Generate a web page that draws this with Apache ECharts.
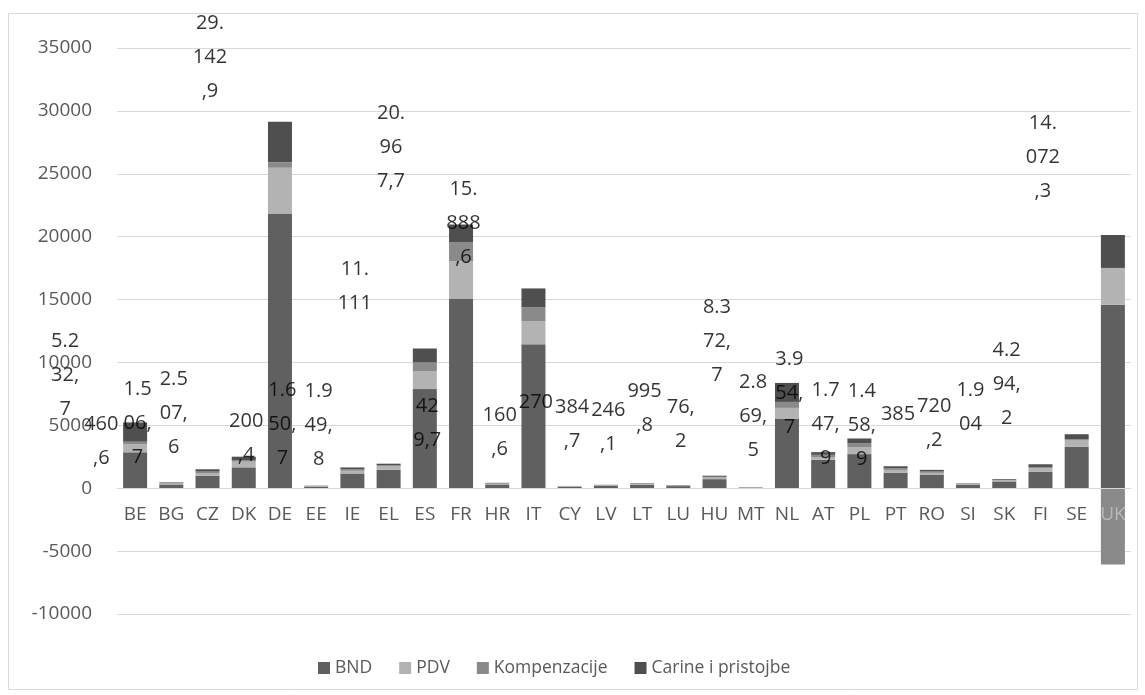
<!DOCTYPE html>
<html>
<head>
<meta charset="utf-8">
<script src="https://cdn.jsdelivr.net/npm/echarts@6/dist/echarts.min.js"></script>
<style>
html,body{margin:0;padding:0;background:#fff;}
#c{width:1145px;height:695px;}
</style>
</head>
<body>
<div id="c"></div>
<script>
// ---- data ----
const categories = ['BE','BG','CZ','DK','DE','EE','IE','EL','ES','FR','HR','IT','CY','LV','LT','LU','HU','MT','NL','AT','PL','PT','RO','SI','SK','FI','SE','UK'];
const seriesNames = ['BND','PDV','Kompenzacije','Carine i pristojbe'];
const bnd    = [2852, 300, 1005, 1660, 21800, 130, 1174, 1474, 7880, 15040, 300, 11440, 110, 190, 270, 170, 720, 55, 5540, 2260, 2712, 1217, 1089, 290, 540, 1295, 3288, 14580];
const pdv    = [661, 70, 159, 450, 3680, 35, 212, 265, 1403, 2991, 60, 1851, 25, 40, 55, 40, 130, 10, 846, 212, 529, 238, 132, 45, 80, 291, 503, 2933];
const komp   = [185, 40, 159, 132, 430, 15, 106, 79, 714, 1507, 30, 1088, 10, 15, 20, 10, 60, 5, 476, 185, 344, 132, 106, 20, 40, 106, 106, -6063];
const carine = [1534, 50, 185, 265, 3233, 20, 159, 132, 1111, 1430, 40, 1505, 16, 25, 40, 26, 86, 6, 1509, 212, 370, 159, 132, 30, 60, 212, 397, 2622];
const totals = [5232.7, 460.6, 1506.7, 2507.6, 29142.9, 200.4, 1650.7, 1949.8, 11111, 20967.7, 429.7, 15888.6, 160.6, 270, 384.7, 246.1, 995.8, 76.2, 8372.7, 2869.5, 3954.7, 1747.9, 1458.9, 385, 720.2, 1904, 4294.2, 14072.3];
const totalLabels = ['5.2\n32,\n7','460\n,6','1.5\n06,\n7','2.5\n07,\n6','29.\n142\n,9','200\n,4','1.6\n50,\n7','1.9\n49,\n8','11.\n111','20.\n96\n7,7','42\n9,7','15.\n888\n,6','160\n,6','270','384\n,7','246\n,1','995\n,8','76,\n2','8.3\n72,\n7','2.8\n69,\n5','3.9\n54,\n7','1.7\n47,\n9','1.4\n58,\n9','385','720\n,2','1.9\n04','4.2\n94,\n2','14.\n072\n,3'];
const yTicks = {min: -10000, max: 35000, interval: 5000};

// ---- layout (label placement offsets, px) ----
const labelDx = -70;
const labelDy = [-47, -41, -46, -43, -64, -47, -43, -38, -62, -77, -60, -65, -54, -83, -59, -58, -67, -63, -42, -36, -45, -42, -45, -69, -56, -57, -50, -154];

const colors = ['#606060', '#b3b3b3', '#8a8a8a', '#4f4f4f'];
const FONT = 'Open Sans';
const GRID = {left: 117, right: 14, top: 48, bottom: 81};

const chart = echarts.init(document.getElementById('c'), null, {renderer: 'canvas'});
const valueArrays = [bnd, pdv, komp, carine];
const barSeries = seriesNames.map((n, k) => ({
  name: n,
  type: 'bar',
  stack: 'total',
  barWidth: 24,
  data: valueArrays[k],
  itemStyle: {color: colors[k]},
  emphasis: {disabled: true}
}));

const labelSeries = {
  name: 'labels',
  type: 'scatter',
  symbol: 'circle',
  symbolSize: 1,
  silent: true,
  z: 10,
  itemStyle: {color: 'rgba(0,0,0,0)'},
  data: totals.map((v, i) => ({
    value: v,
    label: {
      show: true,
      position: 'inside',
      offset: [labelDx, labelDy[i]],
      formatter: totalLabels[i]
    }
  })),
  label: {
    show: true,
    color: '#000',
    fontFamily: FONT,
    fontSize: 20,
    lineHeight: 34,
    align: 'center'
  }
};

// distance from grid bottom to zero line, so the category axis sits on zero
const plotH = 695 - GRID.top - GRID.bottom;
const zeroShift = plotH * (0 - yTicks.min) / (yTicks.max - yTicks.min);

// category tick labels; the one sitting on the negative bar is drawn lighter, as in the original
const categoryData = categories.map((c, i) => {
  const hasNeg = valueArrays.some(a => a[i] < 0);
  return hasNeg ? {value: c, textStyle: {color: '#b8b8b8'}} : c;
});

chart.setOption({
  animation: false,
  backgroundColor: '#fff',
  graphic: [{
    type: 'rect',
    shape: {x: 8.5, y: 13.5, width: 1129, height: 676},
    style: {fill: 'none', stroke: '#d9d9d9', lineWidth: 1},
    silent: true, z: -1
  }],
  grid: Object.assign({containLabel: false}, GRID),
  legend: {
    data: seriesNames,
    left: 313,
    top: 654,
    icon: 'rect',
    itemWidth: 12,
    itemHeight: 12,
    itemGap: 27,
    textStyle: {color: '#595959', fontFamily: FONT, fontSize: 17.5}
  },
  xAxis: {
    type: 'category',
    data: categoryData,
    offset: -zeroShift,
    z: 5,
    axisLine: {show: true, onZero: false, lineStyle: {color: '#d9d9d9', width: 1}},
    axisTick: {show: false},
    axisLabel: {color: '#595959', fontFamily: FONT, fontSize: 19, margin: 17, interval: 0}
  },
  yAxis: {
    type: 'value',
    min: yTicks.min,
    max: yTicks.max,
    interval: yTicks.interval,
    axisLine: {show: false},
    axisTick: {show: false},
    splitLine: {lineStyle: {color: '#d9d9d9', width: 1}},
    axisLabel: {color: '#595959', fontFamily: FONT, fontSize: 19, margin: 25, formatter: v => String(v)}
  },
  series: [...barSeries, labelSeries]
});
</script>
</body>
</html>
